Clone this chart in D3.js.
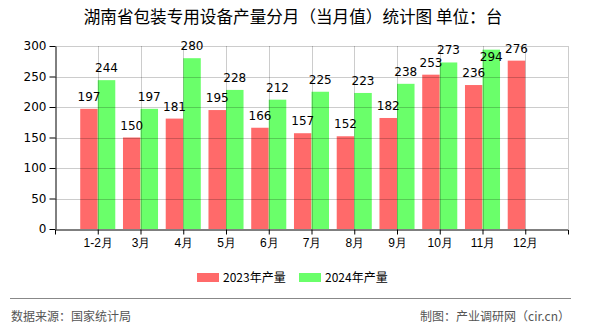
<!DOCTYPE html>
<html>
<head>
<meta charset="utf-8">
<script src="https://cdn.jsdelivr.net/npm/d3@7"></script>
<style>
  html, body { margin: 0; padding: 0; background: #fff; }
  svg { display: block; font-family: "Noto Sans CJK SC", "DejaVu Sans", sans-serif; }
</style>
</head>
<body>
<svg id="chart" width="590" height="330"></svg>
<script>
// Monthly output of packaging equipment in Hunan (units)
const months = ["1-2月", "3月", "4月", "5月", "6月", "7月", "8月", "9月", "10月", "11月", "12月"];
const values2023 = [197, 150, 181, 195, 166, 157, 152, 182, 253, 236, 276];
const values2024 = [244, 197, 280, 228, 212, 225, 223, 238, 273, 294, null];
const seriesNames = ["2023年产量", "2024年产量"];
const seriesColors = ["#ff6a6a", "#6aff6a"];
const yTicks = [0, 50, 100, 150, 200, 250, 300];

const svg = d3.select("#chart");
const plot = { left: 55, right: 568, top: 46, bottom: 229 };

const x = d3.scalePoint().domain(months).range([plot.left, plot.right]).padding(1);
const y = d3.scaleLinear().domain([0, 300]).range([plot.bottom, plot.top]);
const barW = x.step() * 0.41;

// Title
svg.append("text")
  .attr("x", 293).attr("y", 23)
  .attr("text-anchor", "middle")
  .attr("font-size", 16.6)
  .attr("fill", "#000")
  .text("湖南省包装专用设备产量分月（当月值）统计图 单位：台");

// Bars
const series = [values2023, values2024];
series.forEach((vals, si) => {
  const data = months.map((m, i) => ({ m, v: vals[i] })).filter(d => d.v != null);
  svg.append("g").selectAll("rect").data(data).join("rect")
    .attr("x", d => si === 0 ? x(d.m) - barW : x(d.m))
    .attr("y", d => y(d.v))
    .attr("width", barW)
    .attr("height", d => y(0) - y(d.v))
    .attr("fill", seriesColors[si]);
});

// Grid lines over the bars (translucent)
const grid = svg.append("g").attr("stroke", "rgba(0,0,0,0.2)").attr("stroke-width", 1);
yTicks.filter(t => t > 0).forEach(t => {
  grid.append("line")
    .attr("x1", plot.left).attr("x2", plot.right)
    .attr("y1", Math.round(y(t)) + 0.5).attr("y2", Math.round(y(t)) + 0.5);
});
months.map(m => x(m)).concat([plot.right]).forEach(px => {
  grid.append("line")
    .attr("x1", Math.round(px) + 0.5).attr("x2", Math.round(px) + 0.5)
    .attr("y1", plot.top).attr("y2", plot.bottom);
});

// Value labels
series.forEach((vals, si) => {
  const data = months.map((m, i) => ({ m, v: vals[i] })).filter(d => d.v != null);
  svg.append("g").selectAll("text").data(data).join("text")
    .attr("x", d => (si === 0 ? x(d.m) - barW / 2 : x(d.m) + barW / 2))
    .attr("y", d => {
      const c = y(d.v) - 12;
      return (c < 42 ? y(d.v) + 7 : c) + 4;
    })
    .attr("text-anchor", "middle")
    .attr("font-size", 12)
    .attr("font-family", "DejaVu Sans, sans-serif")
    .attr("fill", "#000")
    .text(d => d.v);
});

// Axes
const yAxis = svg.append("g")
  .attr("transform", `translate(${plot.left + 0.5},0)`)
  .call(d3.axisLeft(y).tickValues(yTicks).tickSize(6).tickSizeOuter(0).tickPadding(3));
yAxis.selectAll("text").attr("font-size", 12).attr("font-family", "DejaVu Sans, sans-serif").attr("fill", "#000");

const xAxis = svg.append("g")
  .attr("transform", `translate(0,${plot.bottom + 0.5})`)
  .call(d3.axisBottom(x).tickSize(5).tickSizeOuter(5).tickPadding(4));
xAxis.selectAll("text").attr("font-size", 12).attr("fill", "#000");
svg.selectAll(".domain, .tick line").attr("stroke", "#000");

// Legend
const legend = svg.append("g");
const legendX = [197, 299];
seriesNames.forEach((name, i) => {
  legend.append("rect")
    .attr("x", legendX[i]).attr("y", 273)
    .attr("width", 22).attr("height", 9)
    .attr("fill", seriesColors[i]);
  legend.append("text")
    .attr("x", legendX[i] + 26).attr("y", 281.5)
    .attr("font-size", 12)
    .attr("fill", "#000")
    .text(name);
});

// Footer
svg.append("line")
  .attr("x1", 10).attr("x2", 571)
  .attr("y1", 298.5).attr("y2", 298.5)
  .attr("stroke", "#888").attr("stroke-width", 1);
svg.append("text")
  .attr("x", 11).attr("y", 320.5)
  .attr("font-size", 12).attr("fill", "#555")
  .text("数据来源：国家统计局");
svg.append("text")
  .attr("x", 570).attr("y", 320.5)
  .attr("text-anchor", "end")
  .attr("font-size", 12).attr("fill", "#555")
  .text("制图：产业调研网（cir.cn）");
</script>
</body>
</html>
